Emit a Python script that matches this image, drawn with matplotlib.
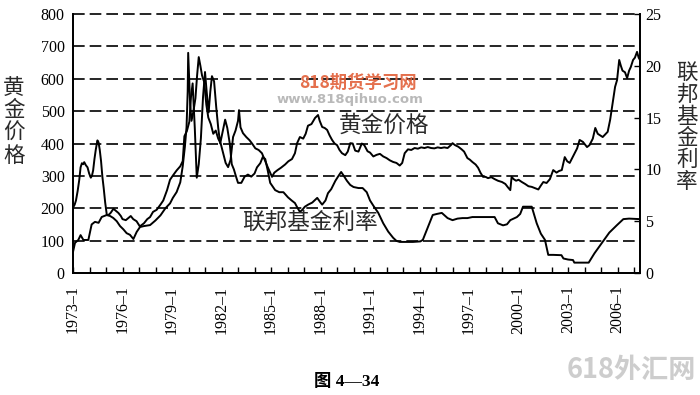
import matplotlib
matplotlib.use("Agg")
import matplotlib.pyplot as plt

# ---------------- data ----------------
gold_t = [1973.00, 1973.12, 1973.32, 1973.46, 1973.63, 1973.93, 1974.13, 1974.33, 1974.55, 1974.74,
          1975.04, 1975.25, 1975.44, 1975.65, 1975.85, 1976.05, 1976.25, 1976.45, 1976.66, 1976.86,
          1977.06, 1977.30, 1977.67, 1977.99, 1978.30, 1978.60, 1978.88, 1979.05, 1979.28, 1979.50,
          1979.65, 1979.78, 1979.88, 1979.95, 1979.98, 1980.03, 1980.10, 1980.18, 1980.30, 1980.42,
          1980.52, 1980.62, 1980.72, 1980.82, 1980.95, 1981.08, 1981.20, 1981.35, 1981.50, 1981.65,
          1981.80, 1981.95, 1982.10, 1982.25, 1982.40, 1982.55, 1982.70, 1982.85, 1983.00, 1983.06,
          1983.15, 1983.30, 1983.50, 1983.70, 1983.85, 1984.05, 1984.25, 1984.45, 1984.65, 1984.80,
          1984.95, 1985.06, 1985.20, 1985.40, 1985.60, 1985.85, 1986.05, 1986.27, 1986.45, 1986.58,
          1986.75, 1986.95, 1987.10, 1987.24, 1987.45, 1987.67, 1987.85, 1987.95, 1988.10, 1988.25,
          1988.40, 1988.55, 1988.70, 1988.85, 1989.00, 1989.15, 1989.30, 1989.50, 1989.65, 1989.80,
          1989.95, 1990.10, 1990.30, 1990.50, 1990.65, 1990.85, 1991.00, 1991.20, 1991.40, 1991.60,
          1991.80, 1992.00, 1992.20, 1992.40, 1992.60, 1992.80, 1992.95, 1993.10, 1993.30, 1993.50,
          1993.70, 1993.90, 1994.10, 1994.30, 1994.50, 1994.70, 1994.90, 1995.10, 1995.30, 1995.50,
          1995.70, 1995.90, 1996.00, 1996.15, 1996.35, 1996.55, 1996.70, 1996.90, 1997.05, 1997.20,
          1997.40, 1997.55, 1997.70, 1997.85, 1998.00, 1998.15, 1998.35, 1998.55, 1998.75, 1999.00,
          1999.20, 1999.35, 1999.50, 1999.58, 1999.70, 1999.85, 2000.00, 2000.20, 2000.40, 2000.60,
          2000.80, 2001.00, 2001.20, 2001.35, 2001.50, 2001.70, 2001.90, 2002.10, 2002.30, 2002.45,
          2002.62, 2002.80, 2002.95, 2003.10, 2003.25, 2003.40, 2003.55, 2003.70, 2003.90, 2004.15,
          2004.30, 2004.50, 2004.65, 2004.80, 2004.95, 2005.10, 2005.25, 2005.40, 2005.55, 2005.70,
          2005.85, 2005.97, 2006.10, 2006.20, 2006.30, 2006.45, 2006.58, 2006.70, 2006.80, 2006.94,
          2007.05, 2007.18, 2007.28, 2007.36]
gold_v = [65, 93, 102, 117, 102, 102, 150, 158, 155, 173,
          179, 176, 170, 160, 145, 135, 123, 118, 105, 127,
          142, 145, 148, 162, 178, 200, 215, 232, 250, 280,
          330, 390, 450, 560, 680, 610, 520, 470, 500, 540,
          610, 667, 640, 610, 590, 520, 480, 460, 430, 440,
          415, 400, 370, 340, 327, 350, 420, 440, 470, 503,
          450, 432, 420, 410, 400, 385, 380, 370, 345, 327,
          310, 297, 310, 318, 325, 335, 345, 352, 370, 401,
          420, 415, 430, 455, 460, 479, 488, 470, 451, 448,
          442, 425, 411, 400, 395, 380, 370, 364, 375, 401,
          400, 378, 375, 400, 395, 376, 372, 360, 365, 368,
          360, 355, 348, 343, 340, 332, 340, 370, 382, 380,
          386, 384, 388, 386, 389, 386, 385, 388, 386, 388,
          386, 395, 401, 395, 390, 382, 375, 355, 350, 343,
          335, 325, 309, 297, 297, 293, 296, 290, 285, 281,
          275, 265, 256, 297, 290, 285, 288, 281, 275, 268,
          266, 262, 258, 270, 281, 278, 290, 318, 310, 315,
          318, 358, 345, 340, 355, 370, 385, 411, 405, 389,
          395, 415, 448, 430, 425, 420, 428, 436, 473, 525,
          575, 596, 658, 640, 625, 620, 602, 625, 636, 658,
          665, 683, 665, 658]

ff_t = [1973.00, 1973.10, 1973.18, 1973.28, 1973.38, 1973.46, 1973.54, 1973.62, 1973.68, 1973.78,
        1973.88, 1973.98, 1974.08, 1974.15, 1974.22, 1974.30, 1974.38, 1974.48, 1974.55, 1974.62,
        1974.70, 1974.78, 1974.86, 1974.95, 1975.05, 1975.15, 1975.28, 1975.45, 1975.60, 1975.75,
        1975.90, 1976.00, 1976.20, 1976.35, 1976.50, 1976.65, 1976.85, 1977.05, 1977.30, 1977.50,
        1977.67, 1977.85, 1978.07, 1978.30, 1978.47, 1978.70, 1978.88, 1979.05, 1979.28, 1979.50,
        1979.65, 1979.75, 1979.90, 1980.05, 1980.15, 1980.25, 1980.38, 1980.50, 1980.62, 1980.75,
        1980.88, 1981.00, 1981.10, 1981.22, 1981.32, 1981.42, 1981.55, 1981.68, 1981.80, 1981.92,
        1982.05, 1982.22, 1982.35, 1982.50, 1982.62, 1982.75, 1982.88, 1983.00, 1983.20, 1983.40,
        1983.60, 1983.80, 1984.00, 1984.15, 1984.35, 1984.50, 1984.65, 1984.80, 1984.95, 1985.25,
        1985.50, 1985.75, 1986.03, 1986.25, 1986.45, 1986.60, 1986.75, 1986.90, 1987.05, 1987.25,
        1987.50, 1987.80, 1988.00, 1988.10, 1988.30, 1988.45, 1988.65, 1988.90, 1989.10, 1989.25,
        1989.40, 1989.60, 1989.80, 1990.00, 1990.30, 1990.55, 1990.80, 1991.00, 1991.20, 1991.50,
        1991.80, 1992.10, 1992.40, 1992.60, 1992.80, 1993.20, 1993.60, 1994.05, 1994.20, 1994.45,
        1994.80, 1995.05, 1995.35, 1995.70, 1996.00, 1996.30, 1996.60, 1996.90, 1997.20, 1997.50,
        1997.80, 1998.20, 1998.55, 1998.75, 1999.06, 1999.30, 1999.50, 1999.90, 2000.10, 2000.27,
        2000.50, 2000.80, 2001.10, 2001.35, 2001.60, 2001.80, 2002.10, 2002.60, 2002.72, 2003.00,
        2003.30, 2003.38, 2004.25, 2004.60, 2005.05, 2005.50, 2005.95, 2006.35, 2006.70, 2007.36]
ff_v = [6.3, 6.6, 7.0, 7.9, 9.0, 10.2, 10.6, 10.5, 10.7, 10.4,
        10.2, 9.6, 9.2, 9.4, 9.9, 11.0, 11.9, 12.8, 12.6, 11.9,
        10.8, 9.3, 8.2, 6.8, 5.6, 5.6, 5.8, 6.2, 6.0, 5.8,
        5.5, 5.2, 5.1, 5.3, 5.5, 5.2, 5.0, 4.5, 4.8, 5.2,
        5.4, 5.9, 6.1, 6.6, 7.0, 8.0, 9.0, 9.4, 9.9, 10.3,
        10.8, 13.2, 13.7, 14.6, 17.0, 18.3, 14.0, 9.2, 10.5, 13.0,
        17.0, 19.4, 17.5, 15.5, 17.5, 19.0, 18.5, 16.0, 14.0, 12.5,
        13.5, 14.8, 14.0, 12.5, 10.5, 10.0, 9.3, 8.7, 8.7, 9.3,
        9.5, 9.3, 9.6, 10.2, 10.6, 11.2, 11.0, 9.9, 8.7, 8.0,
        7.8, 7.8, 7.3, 7.0, 6.75, 6.3, 5.9, 6.1, 6.4, 6.6,
        6.8, 7.25, 6.8, 6.6, 7.0, 7.7, 8.1, 8.9, 9.4, 9.75,
        9.4, 8.9, 8.5, 8.3, 8.2, 8.2, 7.8, 7.0, 6.5, 5.8,
        4.8, 4.0, 3.4, 3.1, 3.0, 3.0, 3.0, 3.05, 3.2, 4.2,
        5.6, 5.7, 5.8, 5.3, 5.1, 5.25, 5.3, 5.3, 5.4, 5.4,
        5.4, 5.4, 5.4, 4.8, 4.6, 4.7, 5.1, 5.4, 5.7, 6.4,
        6.4, 6.4, 4.8, 3.8, 3.2, 1.75, 1.75, 1.72, 1.4, 1.3,
        1.25, 1.0, 1.0, 1.9, 2.9, 3.9, 4.6, 5.2, 5.25, 5.2]

gold_ticks = [0, 100, 200, 300, 400, 500, 600, 700, 800]
rate_ticks = [0, 5, 10, 15, 20, 25]
year_ticks = list(range(1973, 2008))
labelled_years = list(range(1973, 2007, 3))

# ---------------- figure ----------------
plt.rcParams['font.family'] = ['Liberation Serif', 'Noto Sans CJK SC', 'DejaVu Sans']
W, H = 700, 395
fig = plt.figure(figsize=(W / 100, H / 100), dpi=100)
fig.patch.set_facecolor('white')

L, R, T, B = 73, 640, 14, 273
ax = fig.add_axes([L / W, 1 - B / H, (R - L) / W, (B - T) / H])
ax.set_xlim(1973, 2007.36)
ax.set_ylim(0, 800)
ax2 = ax.twinx()
ax2.set_ylim(0, 25)

for a in (ax, ax2):
    a.spines['top'].set_visible(False)
    for s in ('left', 'right', 'bottom'):
        a.spines[s].set_linewidth(1.3)
        a.spines[s].set_color('black')

# dashed horizontal grid
for v in gold_ticks[1:]:
    ax.axhline(v, color='black', lw=1.2, ls=(0, (7, 3)), clip_on=False, zorder=1)

ax.set_yticks(gold_ticks)
ax.set_yticklabels([str(v) for v in gold_ticks])
ax.tick_params(axis='y', direction='in', length=0, labelsize=11.5, pad=6)

ax.set_xticks(year_ticks)
ax.set_xticklabels([f"{y}–1" if y in labelled_years else "" for y in year_ticks],
                   rotation=90)
ax.tick_params(axis='x', direction='in', length=4, width=1, labelsize=11.5, pad=9)

ax2.set_yticks(rate_ticks)
ax2.set_yticklabels([str(v) for v in rate_ticks])
ax2.tick_params(axis='y', direction='in', length=4, width=1, labelsize=11.5, pad=4)

ax.plot(gold_t, gold_v, color='black', lw=1.4, zorder=3, solid_joinstyle='round')
ax2.plot(ff_t, ff_v, color='black', lw=1.4, zorder=3, solid_joinstyle='round')

cjk = ['Noto Sans CJK SC', 'DejaVu Sans']


def fx(x):
    return x / W


def fy(y):
    return 1 - y / H


# vertical axis titles (stacked characters)
for i, ch in enumerate("黄金价格"):
    fig.text(fx(14), fy(88 + i * 22.5), ch, fontsize=15.5, family=cjk, weight='light',
             ha='center', va='center', color='#2a2a2a')
for i, ch in enumerate("联邦基金利率"):
    fig.text(fx(687), fy(73 + i * 21.8), ch, fontsize=15.5, family=cjk, weight='light',
             ha='center', va='center', color='#2a2a2a')

# in-plot series labels
fig.text(fx(384), fy(125), "黄金价格", fontsize=16.3, family=cjk, weight='light',
         ha='center', va='center', color='#2a2a2a')
fig.text(fx(310), fy(222), "联邦基金利率", fontsize=16.3, family=cjk, weight='light',
         ha='center', va='center', color='#2a2a2a')

# watermarks
fig.text(fx(358), fy(83), "818期货学习网", fontsize=12.5, family=cjk, weight='bold',
         ha='center', va='center', color='#e2603a', alpha=0.9)
fig.text(fx(350), fy(99), "www.818qihuo.com", fontsize=9.5, family=['DejaVu Sans'],
         weight='bold', ha='center', va='center', color='#b9b9b9')
fig.text(fx(631), fy(370), "618外汇网", fontsize=19.5, family=cjk, weight='bold',
         ha='center', va='center', color='#cdcdcd')

# caption
fig.text(fx(347), fy(382), "图 4—34", fontsize=12.5, weight='bold',
         family=['Liberation Serif', 'Noto Sans CJK SC'], ha='center', va='center')

fig.savefig("out.png", dpi=100, facecolor='white')
